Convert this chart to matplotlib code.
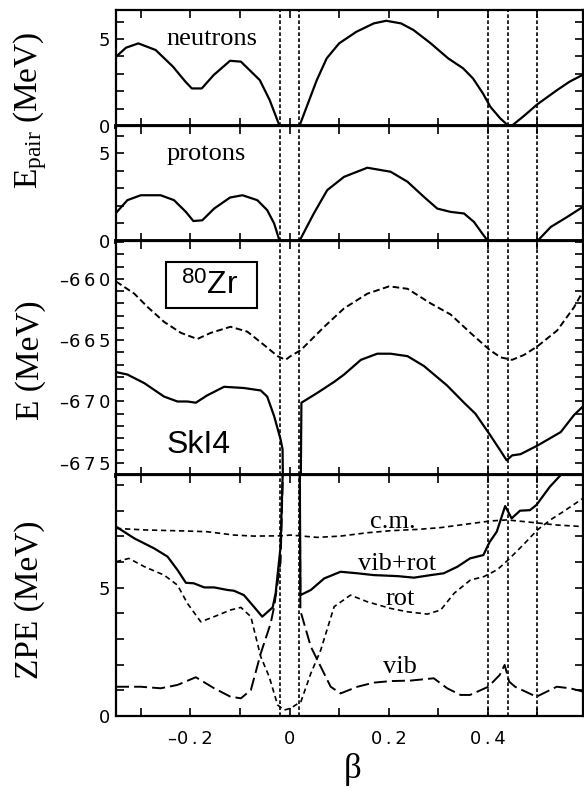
import matplotlib
matplotlib.use("Agg")
import matplotlib.pyplot as plt
from matplotlib.ticker import MultipleLocator, FuncFormatter, NullFormatter
from matplotlib.patches import Rectangle

# ---------------- data ----------------
# pairing energies (MeV)
beta_n = [-0.35, -0.33, -0.305, -0.27, -0.235, -0.21, -0.197, -0.177, -0.153, -0.12,
          -0.098, -0.06, -0.04, -0.02, 0.02, 0.055, 0.075, 0.10, 0.135, 0.17, 0.195,
          0.225, 0.25, 0.285, 0.32, 0.35, 0.37, 0.39, 0.405, 0.425, 0.44, 0.45, 0.475,
          0.50, 0.54, 0.565, 0.592]
epair_n = [3.98, 4.5, 4.75, 4.37, 3.41, 2.55, 2.16, 2.16, 2.93, 3.75,
           3.70, 2.64, 1.49, 0.0, 0.0, 2.64, 3.89, 4.75, 5.42, 5.90, 6.05,
           5.90, 5.52, 4.75, 3.89, 3.32, 2.74, 1.88, 1.11, 0.44, 0.05, 0.05, 0.63,
           1.25, 2.07, 2.55, 2.95]

beta_p = [-0.35, -0.327, -0.30, -0.26, -0.233, -0.209, -0.194, -0.176, -0.152, -0.12,
          -0.095, -0.065, -0.045, -0.031, -0.02, 0.02, 0.049, 0.076, 0.11, 0.157,
          0.204, 0.238, 0.271, 0.298, 0.325, 0.352, 0.372, 0.389, 0.40, 0.50, 0.527,
          0.56, 0.592]
epair_p = [1.6, 2.33, 2.61, 2.61, 2.33, 1.66, 1.14, 1.18, 1.85, 2.48,
           2.61, 2.33, 1.76, 1.0, 0.0, 0.0, 1.57, 2.9, 3.66, 4.18,
           3.95, 3.38, 2.52, 1.85, 1.66, 1.57, 1.09, 0.42, 0.0, 0.0, 0.8,
           1.37, 1.95]

# total energy without (dashed) and with (solid) zero-point correction
beta_e0 = [-0.35, -0.313, -0.286, -0.253, -0.219, -0.186, -0.159, -0.119, -0.085, -0.051,
           -0.024, -0.008, 0.002, 0.023, 0.07, 0.11, 0.157, 0.201, 0.238, 0.285,
           0.325, 0.365, 0.404, 0.426, 0.449, 0.473, 0.50, 0.54, 0.574, 0.592]
e_mf = [-660.2, -661.2, -662.3, -663.5, -664.4, -664.9, -664.4, -663.9, -664.3, -665.4,
        -666.3, -666.6, -666.3, -665.8, -663.9, -662.4, -661.2, -660.6, -660.8, -662.0,
        -662.9, -664.4, -665.8, -666.4, -666.6, -666.2, -665.5, -664.2, -662.3, -661.0]

beta_e1 = [-0.35, -0.327, -0.293, -0.253, -0.226, -0.206, -0.189, -0.166, -0.132, -0.092,
           -0.058, -0.045, -0.031, -0.018, -0.014, -0.01, 0.02, 0.024, 0.056, 0.09,
           0.11, 0.144, 0.177, 0.204, 0.238, 0.271, 0.318, 0.352, 0.375, 0.404,
           0.422, 0.438, 0.449, 0.466, 0.50, 0.547, 0.574, 0.592]
e_corr = [-667.6, -667.8, -668.5, -669.6, -670.0, -670.0, -670.1, -669.5, -668.8, -668.9,
          -669.1, -669.6, -671.2, -673.1, -673.9, -690.0, -690.0, -670.1, -669.3, -668.4,
          -667.8, -666.6, -666.1, -666.1, -666.3, -667.1, -668.7, -670.1, -671.0, -672.7,
          -673.8, -674.8, -674.4, -674.3, -673.6, -672.5, -671.1, -670.4]

# zero-point energies (MeV)
beta_cm = [-0.35, -0.293, -0.213, -0.166, -0.112, -0.072, -0.018, 0.002, 0.056, 0.103,
           0.157, 0.204, 0.258, 0.305, 0.359, 0.406, 0.439, 0.486, 0.54, 0.592]
zpe_cm = [7.31, 7.25, 7.21, 7.18, 7.05, 7.01, 7.02, 7.05, 6.96, 7.01,
          7.14, 7.22, 7.27, 7.34, 7.48, 7.60, 7.64, 7.55, 7.44, 7.38]

beta_vr = [-0.35, -0.313, -0.273, -0.246, -0.226, -0.209, -0.193, -0.172, -0.152, -0.125,
           -0.112, -0.092, -0.072, -0.055, -0.034, -0.028, -0.018, -0.01, 0.02, 0.022,
           0.043, 0.07, 0.103, 0.137, 0.17, 0.218, 0.251, 0.285, 0.311, 0.339,
           0.364, 0.391, 0.404, 0.418, 0.435, 0.448, 0.465, 0.485, 0.498, 0.525,
           0.55, 0.57]
zpe_vr = [7.38, 6.92, 6.53, 6.21, 5.69, 5.19, 5.17, 5.01, 5.01, 4.91,
          4.88, 4.71, 4.26, 3.87, 4.23, 4.78, 6.6, 12.0, 12.0, 4.71,
          4.91, 5.36, 5.62, 5.56, 5.49, 5.45, 5.39, 5.49, 5.56, 5.82,
          6.14, 6.27, 6.79, 7.18, 8.18, 7.70, 8.0, 8.02, 8.22, 8.93,
          9.45, 10.0]

beta_rot = [-0.35, -0.324, -0.293, -0.253, -0.226, -0.206, -0.179, -0.152, -0.119, -0.098,
            -0.078, -0.058, -0.041, -0.024, -0.011, 0.002, 0.023, 0.043, 0.063, 0.09,
            0.123, 0.157, 0.204, 0.238, 0.278, 0.305, 0.332, 0.365, 0.392, 0.419,
            0.441, 0.473, 0.50, 0.527, 0.552, 0.592]
zpe_rot = [6.01, 6.14, 5.82, 5.49, 5.10, 4.39, 3.67, 3.87, 4.13, 4.23,
           3.87, 2.31, 1.53, 0.43, 0.23, 0.3, 0.56, 1.66, 2.57, 4.26,
           4.71, 4.45, 4.19, 4.06, 3.97, 4.13, 4.78, 5.3, 5.43, 5.7,
           6.08, 6.7, 7.25, 7.65, 7.96, 8.48]

beta_vib = [-0.35, -0.30, -0.26, -0.226, -0.189, -0.152, -0.119, -0.098, -0.078, -0.058,
            -0.038, -0.031, -0.018, -0.01, 0.02, 0.022, 0.043, 0.063, 0.083, 0.103,
            0.137, 0.17, 0.204, 0.244, 0.291, 0.318, 0.345, 0.364, 0.401, 0.424,
            0.434, 0.443, 0.455, 0.498, 0.539, 0.566, 0.592]
zpe_vib = [1.14, 1.14, 1.08, 1.21, 1.51, 1.08, 0.75, 0.69, 1.01, 2.44,
           3.61, 4.26, 6.0, 12.0, 12.0, 4.1, 2.7, 1.92, 1.14, 0.88,
           1.14, 1.3, 1.36, 1.38, 1.47, 1.08, 0.82, 0.82, 1.14, 1.6,
           1.99, 1.34, 1.14, 0.75, 1.14, 1.08, 0.95]

# deformations marking the transitions
beta_marks = [-0.02, 0.02, 0.40, 0.44, 0.50]

# ---------------- styling ----------------
plt.rcParams.update({
    "font.family": "DejaVu Sans",
    "mathtext.fontset": "custom",
    "mathtext.rm": "Liberation Serif",
    "mathtext.it": "Liberation Serif:italic",
    "mathtext.sf": "Liberation Sans",
    "axes.unicode_minus": False,
})
SERIF = "Liberation Serif"
SANS = "Liberation Sans"

fig = plt.figure(figsize=(5.84, 7.88), dpi=100)
FW, FH = 584.0, 788.0
LEFT, WIDTH = 116 / FW, 467 / FW


def panel(top, bottom):
    return fig.add_axes([LEFT, 1 - bottom / FH, WIDTH, (bottom - top) / FH])


ax1 = panel(10, 126)
ax2 = panel(126, 241)
ax3 = panel(241, 475)
ax4 = panel(475, 716)
axes = [ax1, ax2, ax3, ax4]


def spaced(v, pos):
    v = round(v, 6)
    if abs(v) < 1e-9:
        v = 0.0
    sign = "\u2013" if v < 0 else ""
    body = "\u2009".join(f"{abs(v):g}")
    return sign + body


for ax in axes:
    ax.set_xlim(-0.35, 0.592)
    ax.xaxis.set_major_locator(MultipleLocator(0.2))
    ax.xaxis.set_minor_locator(MultipleLocator(0.1))
    ax.yaxis.set_major_locator(MultipleLocator(5))
    ax.yaxis.set_minor_locator(MultipleLocator(1))
    ax.yaxis.set_major_formatter(FuncFormatter(spaced))
    ax.tick_params(which="both", direction="in", top=True, right=True,
                   length=5.8, width=1.2, labelsize=13)
    ax.tick_params(axis="y", pad=4)
    ax.tick_params(axis="x", pad=10)
    for s in ax.spines.values():
        s.set_linewidth(1.6)
    for b in beta_marks:
        ax.axvline(b, color="k", lw=1.2, ls=(0, (2.2, 1.4)), zorder=1)
    if ax is not ax4:
        ax.xaxis.set_major_formatter(NullFormatter())
        ax.spines["bottom"].set_linewidth(3.5)
    else:
        ax.xaxis.set_major_formatter(FuncFormatter(spaced))

ax1.set_ylim(0, 6.67)
ax2.set_ylim(0, 6.56)
ax3.set_ylim(-676.0, -656.9)
ax4.set_ylim(0, 9.39)

# pairing energies
ax1.plot(beta_n, epair_n, color="k", lw=1.6, zorder=3)
ax2.plot(beta_p, epair_p, color="k", lw=1.6, zorder=3)
ax1.text(-0.249, 4.66, "neutrons", family=SERIF, size=19, ha="left", va="baseline")
ax2.text(-0.249, 4.62, "protons", family=SERIF, size=19, ha="left", va="baseline")

# energies
ax3.plot(beta_e0, e_mf, color="k", lw=1.4, ls=(0, (3.4, 1.8)), zorder=3)
ax3.plot(beta_e1, e_corr, color="k", lw=1.6, zorder=3)
ax3.add_patch(Rectangle((0.107, 0.714), 0.195, 0.198, transform=ax3.transAxes,
                        fill=False, lw=1.5, ec="k", zorder=4))
ax3.text(0.201, 0.808, r"$^{\mathsf{80}}$Zr", transform=ax3.transAxes,
         family=SANS, size=23, ha="center", va="center", zorder=5)
ax3.text(-0.249, -674.2, "SkI4", family=SANS, size=23, ha="left", va="baseline")

# zero-point energies
ax4.plot(beta_cm, zpe_cm, color="k", lw=1.2, ls=(0, (3.2, 2.2)), zorder=3)
ax4.plot(beta_vr, zpe_vr, color="k", lw=1.6, zorder=3)
ax4.plot(beta_rot, zpe_rot, color="k", lw=1.2, ls=(0, (3.2, 2.2)), zorder=3)
ax4.plot(beta_vib, zpe_vib, color="k", lw=1.4, ls=(0, (6.7, 2.6)), zorder=3)
ax4.text(0.2086, 7.31, "c.m.", family=SERIF, size=19, ha="center", va="baseline")
ax4.text(0.2166, 5.69, "vib+rot", family=SERIF, size=19, ha="center", va="baseline")
ax4.text(0.2227, 4.32, "rot", family=SERIF, size=19, ha="center", va="baseline")
ax4.text(0.2227, 1.66, "vib", family=SERIF, size=19, ha="center", va="baseline")

# axis titles
fig.text(30 / FW, 1 - 110 / FH, r"E$_{\mathrm{pair}}$ (MeV)", rotation=90,
         family=SERIF, size=24, ha="center", va="center")
fig.text(30.5 / FW, 1 - 360 / FH, "E (MeV)", rotation=90,
         family=SERIF, size=24, ha="center", va="center")
fig.text(30 / FW, 1 - 600 / FH, "ZPE (MeV)", rotation=90,
         family=SERIF, size=24, ha="center", va="center")
fig.text(353 / FW, 1 - 769 / FH, "\u03b2", family=SERIF, size=25,
         ha="center", va="center")

fig.savefig("out.png", dpi=100)
